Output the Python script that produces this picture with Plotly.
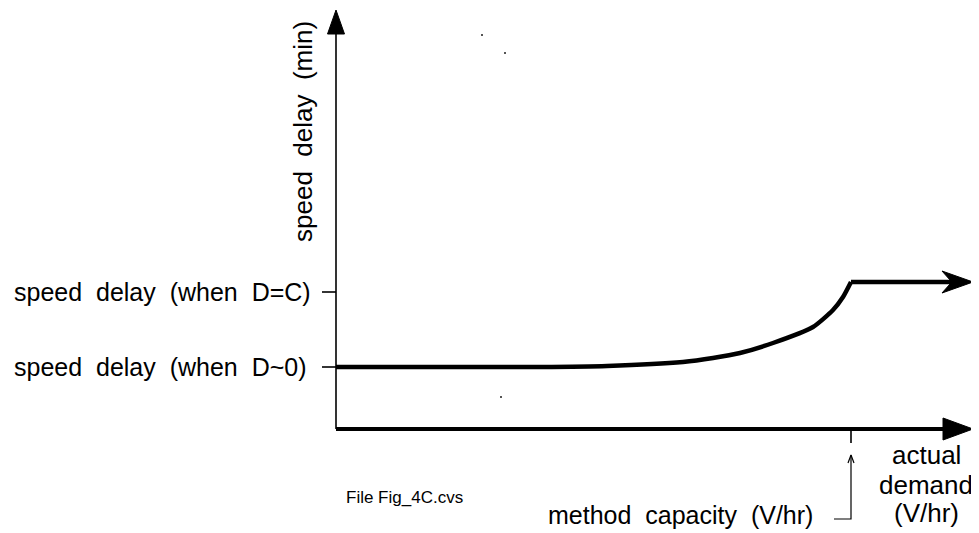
import plotly.graph_objects as go

# ── Data (abstract units: demand along x, speed delay along y) ──────
demand = [0, 114, 204, 271, 347, 377, 404, 437, 477, 497, 507, 515]
delay = [62, 62, 62, 63, 67, 71, 76, 86, 102, 119, 132, 147]
plateau_end = 617       # where the D=C plateau runs into its arrowhead

capacity = 515          # method capacity tick on demand axis
delay_zero = 62         # speed delay when D~0
delay_cap = 137         # speed delay when D=C (tick label)
x_axis_end = 637
y_axis_end = 419
curve_end = 637

specks_x = [146, 169, 165]
specks_y = [394, 376, 32]

BLACK = "#000000"
FONT = "Liberation Sans, Arial, sans-serif"
SP = "\u00a0"


def tri_up(x, y, length, half):
    return [x - half, x, x + half, x - half], [y - length, y, y - length, y - length]


def tri_right(x, y, length, half):
    return [x - length, x, x - length, x - length], [y - half, y, y + half, y - half]


def stealth_right(x, y, length, half, notch):
    xs = [x, x - length, x - length + notch, x - length + notch, x - length, x]
    ys = [y, y + half, y + 2, y - 2, y - half, y]
    return xs, ys


fig = go.Figure()

# y axis (thin) with filled head
fig.add_trace(go.Scatter(x=[0, 0], y=[0, y_axis_end - 20], mode="lines",
                         line=dict(color=BLACK, width=1.6), hoverinfo="skip"))
hx, hy = tri_up(0, y_axis_end, 24, 8.5)
fig.add_trace(go.Scatter(x=hx, y=hy, mode="lines", fill="toself", fillcolor=BLACK,
                         line=dict(color=BLACK, width=1), hoverinfo="skip"))

# x axis (thick) with filled head
fig.add_trace(go.Scatter(x=[0, x_axis_end - 28], y=[0, 0], mode="lines",
                         line=dict(color=BLACK, width=4), hoverinfo="skip"))
hx, hy = tri_right(x_axis_end, 0, 30, 11)
fig.add_trace(go.Scatter(x=hx, y=hy, mode="lines", fill="toself", fillcolor=BLACK,
                         line=dict(color=BLACK, width=1), hoverinfo="skip"))

# delay curve: smooth rise up to capacity, then flat plateau
fig.add_trace(go.Scatter(x=demand, y=delay, mode="lines",
                         line=dict(color=BLACK, width=4.5, shape="spline", smoothing=0.6),
                         hoverinfo="skip"))
fig.add_trace(go.Scatter(x=[demand[-1], plateau_end], y=[delay[-1], delay[-1]], mode="lines",
                         line=dict(color=BLACK, width=4.5), hoverinfo="skip"))
hx, hy = stealth_right(curve_end, delay[-1], 31, 11, 8)
fig.add_trace(go.Scatter(x=hx, y=hy, mode="lines", fill="toself", fillcolor=BLACK,
                         line=dict(color=BLACK, width=1), hoverinfo="skip"))

# y ticks
for yv in [delay_cap, delay_zero]:
    fig.add_trace(go.Scatter(x=[-14, 0], y=[yv, yv], mode="lines",
                             line=dict(color=BLACK, width=1.6), hoverinfo="skip"))

# capacity tick on x axis
fig.add_trace(go.Scatter(x=[capacity, capacity], y=[0, -14], mode="lines",
                         line=dict(color=BLACK, width=1.6), hoverinfo="skip"))

# bracket pointing up to capacity
fig.add_trace(go.Scatter(x=[capacity - 17, capacity, capacity], y=[-90, -90, -26], mode="lines",
                         line=dict(color=BLACK, width=1.2), hoverinfo="skip"))
fig.add_trace(go.Scatter(x=[capacity - 3, capacity, capacity + 3], y=[-34, -26, -34], mode="lines",
                         line=dict(color=BLACK, width=1.2), hoverinfo="skip"))

# specks
fig.add_trace(go.Scatter(x=specks_x, y=specks_y, mode="markers",
                         marker=dict(color="#555", size=2, symbol="square"), hoverinfo="skip"))


def label(text, x, y, size, xanchor="center", angle=0):
    fig.add_annotation(x=x, y=y, xref="x", yref="y", text=text, showarrow=False,
                       xanchor=xanchor, yanchor="middle", textangle=angle,
                       font=dict(family=FONT, size=size, color=BLACK))


label(f"speed{SP} delay{SP} (when{SP} D=C)", -324, delay_cap, 25, xanchor="left")
label(f"speed{SP} delay{SP} (when{SP} D~0)", -324, delay_zero, 25, xanchor="left")
label(f"speed{SP} delay{SP} (min)", -33, 297, 26, angle=-90)
label("actual", 590, -26, 26)
label("demand", 590, -56, 26)
label("(V/hr)", 590, -84, 26)
label(f"method{SP} capacity{SP} (V/hr)", 479, -86, 25, xanchor="right")
label("File Fig_4C.cvs", 68, -68, 17)

# the page adds an 8px body margin, so the figure is 8px smaller each way
fig.update_layout(
    width=971, height=525,
    margin=dict(l=0, r=0, t=0, b=0),
    paper_bgcolor="white", plot_bgcolor="white",
    showlegend=False,
    xaxis=dict(range=[-328, 643], visible=False, fixedrange=True),
    yaxis=dict(range=[-104, 421], visible=False, fixedrange=True),
)

fig.write_html("out.html")
